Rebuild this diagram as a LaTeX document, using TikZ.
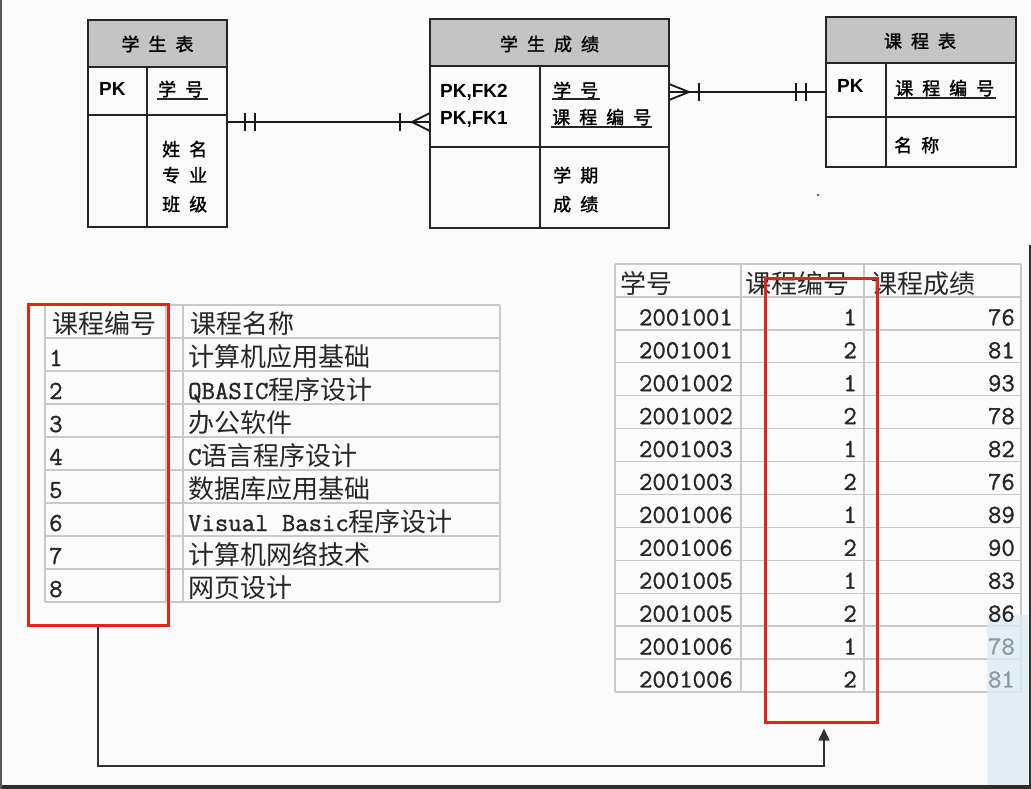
\documentclass[tikz,border=0pt]{standalone}
\usepackage{fontspec}
\setmainfont{Liberation Sans}
\setmonofont{Latin Modern Mono}[FakeBold=1.2]
\newfontfamily\cjk{Noto Sans CJK SC}
\newfontfamily\cjkb{Noto Sans CJK SC}[FakeBold=1.5]
\usetikzlibrary{arrows.meta}
\definecolor{hdrgray}{HTML}{C4C4C4}
\definecolor{gridgray}{HTML}{C9C9C9}
\definecolor{redbox}{HTML}{E3241B}
\definecolor{bg}{HTML}{FBFBFB}
\definecolor{ovblue}{HTML}{DDEBF7}
\definecolor{fadetxt}{HTML}{8C9AA6}
\definecolor{framec}{HTML}{2E2E2E}
\newcommand{\chgap}{\hspace{9pt}}
\begin{document}
\begin{tikzpicture}[x=1pt,y=-1pt,
  ebox/.style={draw=black!85, line width=1.6pt, inner sep=0},
  erline/.style={black!85, line width=1.6pt},
  erhd/.style={font=\cjkb\fontsize{18}{20}\selectfont, inner sep=0},
  erf/.style={font=\cjkb\fontsize{18}{20}\selectfont, inner sep=0, anchor=base west},
  pk/.style={font=\bfseries\fontsize{19}{22}\selectfont, inner sep=0, anchor=base west},
  uline/.style={black!85, line width=1.6pt},
  rel/.style={line width=2.2pt, black!90},
  tick/.style={line width=2.2pt, black!90},
  gridl/.style={gridgray, line width=1.4pt},
  tbl/.style={font=\cjk\fontsize{26}{30}\selectfont, inner sep=0, anchor=base west, text=black!85},
  tblr/.style={tbl, anchor=base east},
  redframe/.style={draw=redbox, line width=3pt, inner sep=0},
  conn/.style={line width=1.6pt, black!80, -{Triangle[length=12pt,width=11pt]}, shorten >=5pt}]
\useasboundingbox (0,0) rectangle (1031,789);
\fill[bg] (0,0) rectangle (1031,789);

% ---------- entity 1: 学生表
\fill[hdrgray] (88,20) rectangle (227,67);
\node[ebox, minimum width=139pt, minimum height=207pt] (e1) at (157.5,123.5) {};
\draw[erline] (88,67) -- (227,67) (88,115) -- (227,115) (147,67) -- (147,227);
\node[erhd] (h1) at (157.5,44) {学\chgap{}生\chgap{}表};
\node[pk] (p1) at (99,96) {PK};
\node[erf] (f1k) at (158,96) {学\chgap{}号};
\draw[uline] (157,99) -- (208,99);
\node[erf] (f1a) at (162,156) {姓\chgap{}名};
\node[erf] (f1b) at (162,182) {专\chgap{}业};
\node[erf] (f1c) at (162,211) {班\chgap{}级};

% ---------- entity 2: 学生成绩
\fill[hdrgray] (430,19) rectangle (669,66);
\node[ebox, minimum width=239pt, minimum height=209pt] (e2) at (549.5,123.5) {};
\draw[erline] (430,66) -- (669,66) (430,147) -- (669,147) (540,66) -- (540,228);
\node[erhd] (h2) at (549.5,44) {学\chgap{}生\chgap{}成\chgap{}绩};
\node[pk] (p2a) at (440,98) {PK,FK2};
\node[pk] (p2b) at (440,125) {PK,FK1};
\node[erf] (f2k1) at (553,97) {学\chgap{}号};
\draw[uline] (552,99) -- (600,99);
\node[erf] (f2k2) at (552,124) {课\chgap{}程\chgap{}编\chgap{}号};
\draw[uline] (551,127) -- (652,127);
\node[erf] (f2a) at (553,182) {学\chgap{}期};
\node[erf] (f2b) at (553,211) {成\chgap{}绩};

% ---------- entity 3: 课程表
\fill[hdrgray] (826,17) rectangle (1016,63);
\node[ebox, minimum width=190pt, minimum height=150pt] (e3) at (921,92) {};
\draw[erline] (826,63) -- (1016,63) (826,117) -- (1016,117) (886,63) -- (886,167);
\node[erhd] (h3) at (920,41) {课\chgap{}程\chgap{}表};
\node[pk] (p3) at (837,93) {PK};
\node[erf] (f3k) at (895,95) {课\chgap{}程\chgap{}编\chgap{}号};
\draw[uline] (894,98) -- (996,98);
\node[erf] (f3a) at (894,152) {名\chgap{}称};

% ---------- relationships
\draw[rel] (e1.east |- 0,122) -- (e2.west |- 0,122);
\draw[tick] (245,113) -- (245,131) (255,113) -- (255,131) (400,113) -- (400,131);
\draw[tick, line width=1.8pt] (430,113) -- (412,122) -- (430,131);
\draw[rel] (e2.east |- 0,92) -- (e3.west |- 0,92);
\draw[tick, line width=1.8pt] (669,84) -- (689,92) -- (669,100);
\draw[tick] (699,83) -- (699,101) (796,83) -- (796,101) (806,83) -- (806,101);
\fill[redbox] (818,195) circle (1.3);

% ---------- lower left table
\foreach \i in {0,...,9} \draw[gridl] (45,{305+33*\i}) -- (500,{305+33*\i});
\foreach \x in {45,166,183,500} \draw[gridl] (\x,305) -- (\x,602);
\node[tbl] (lh1) at (52,333) {课程编号};
\node[tbl] (lh2) at (190,333) {课程名称};
\foreach \n/\t [count=\i] in {1/计算机应用基础, 2/{\ttfamily QBASIC}程序设计, 3/办公软件, 4/{\ttfamily C}语言程序设计, 5/数据库应用基础, 6/{\ttfamily Visual Basic}程序设计, 7/计算机网络技术, 8/网页设计} {
  \node[tbl] (ln\i) at (49,{305+33*(\i+1)-5}) {\ttfamily\n};
  \node[tbl] (lt\i) at (188,{305+33*(\i+1)-5}) {\t};
}

% ---------- right table
\foreach \i in {0,...,13} \draw[gridl] (615,{264+32.92*\i}) -- (1021,{264+32.92*\i});
\foreach \x in {615,741,864,1021} \draw[gridl] (\x,264) -- (\x,692);
\fill[ovblue, opacity=0.8] (987,615) rectangle (1028,785);
\node[tbl] (rh1) at (620,293) {学号};
\node[tbl] (rh2) at (745,293) {课程编号};
\node[tbl] (rh3) at (871,293) {课程成绩};
\foreach \s/\c/\g/\col [count=\i] in {2001001/1/76/black!85, 2001001/2/81/black!85, 2001002/1/93/black!85, 2001002/2/78/black!85, 2001003/1/82/black!85, 2001003/2/76/black!85, 2001006/1/89/black!85, 2001006/2/90/black!85, 2001005/1/83/black!85, 2001005/2/86/black!85, 2001006/1/78/fadetxt, 2001006/2/81/fadetxt} {
  \pgfmathsetmacro{\yb}{264+32.92*(\i+1)-4.5}
  \node[tblr] (rs\i) at (733,\yb) {\ttfamily\s};
  \node[tblr] (rc\i) at (857,\yb) {\ttfamily\c};
  \node[tblr, text=\col] (rg\i) at (1015,\yb) {\ttfamily\g};
}

% ---------- red highlight boxes and link
\node[redframe, minimum width=140pt, minimum height=321pt] (ra) at (98,464.5) {};
\node[redframe, minimum width=112pt, minimum height=444pt] (rb) at (821,500) {};
\coordinate (turn) at (824,766);
\draw[conn] (ra.south) |- (turn) -- (turn |- rb.south);

% ---------- screen frame
\fill[framec] (0,785) rectangle (1031,789);
\fill[framec] (1028.5,245) rectangle (1031,789);
\fill[framec!80] (0,0) rectangle (2,789);
\end{tikzpicture}
\end{document}
